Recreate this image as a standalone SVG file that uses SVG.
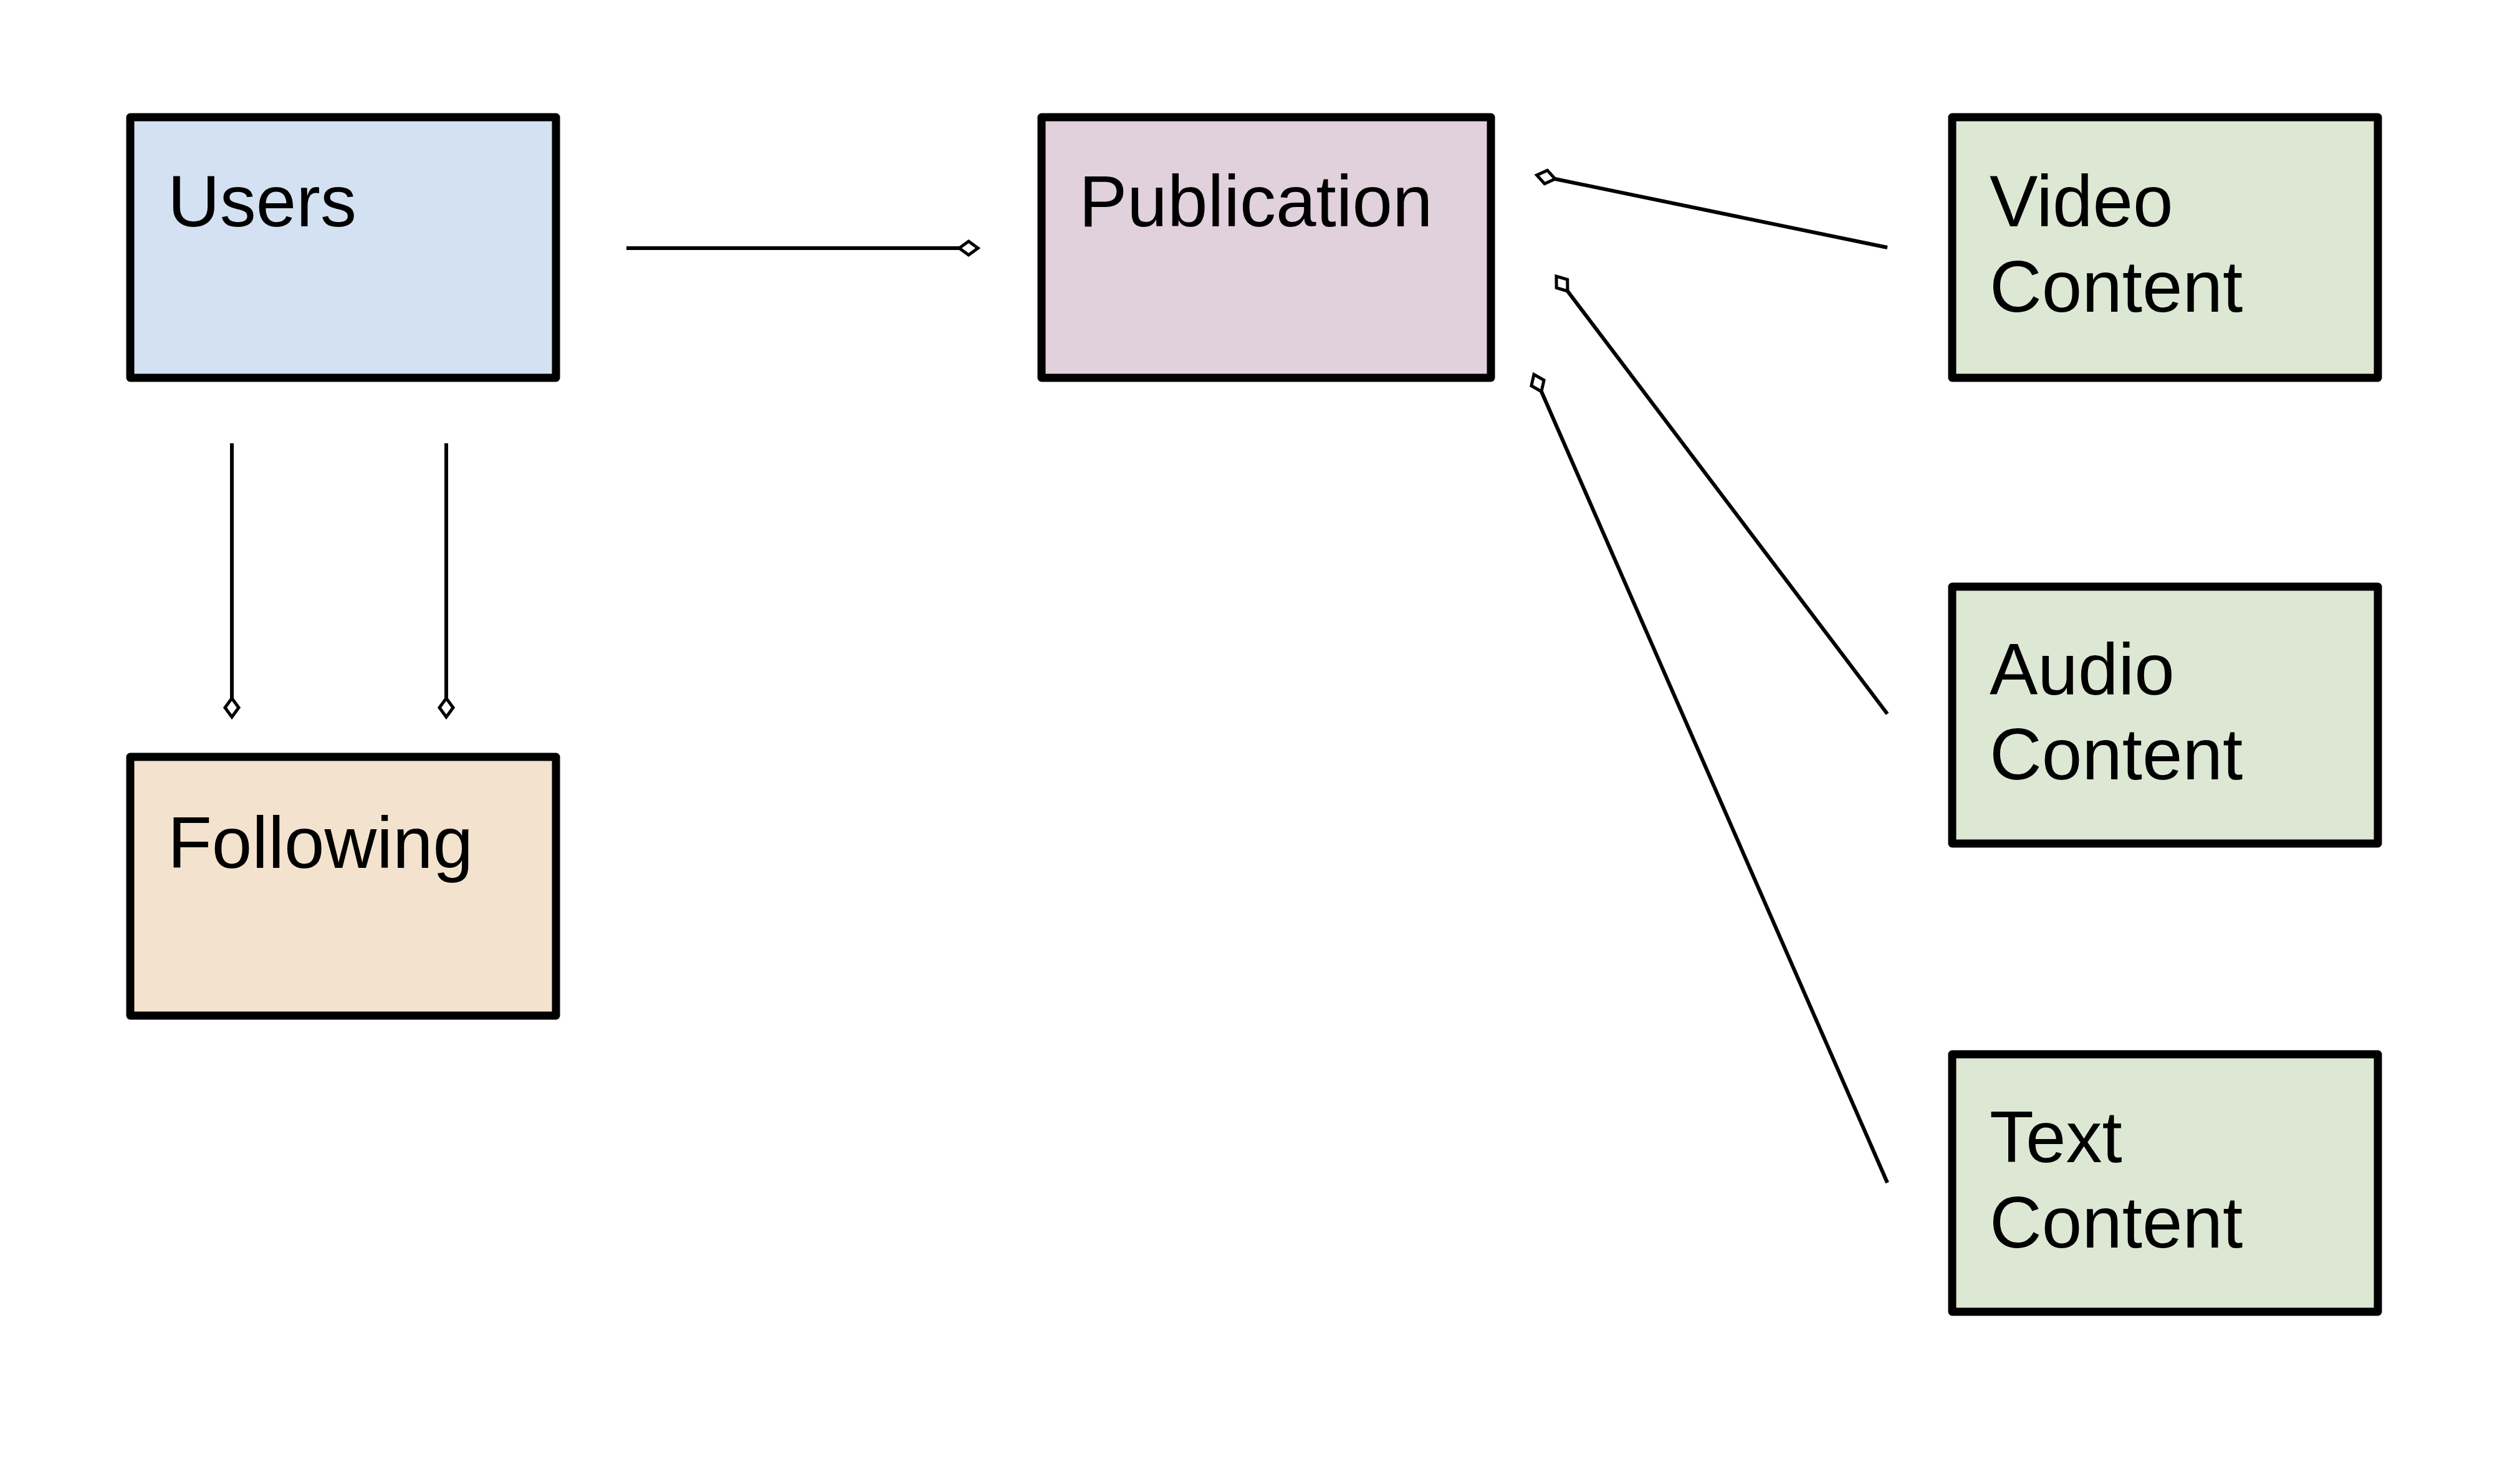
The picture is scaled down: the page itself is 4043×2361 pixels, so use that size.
<svg xmlns="http://www.w3.org/2000/svg" width="4043" height="2361" viewBox="0 0 4043 2361">
<style>
.box{stroke:#000;stroke-width:13;stroke-linejoin:round}
.lbl{font-family:"Liberation Sans",Arial,sans-serif;font-size:116px;fill:#000}
.conn{stroke:#000;stroke-width:6;fill:none}
</style>
<defs>
<marker id="dia" markerUnits="userSpaceOnUse" markerWidth="40" markerHeight="30" viewBox="-4 -15 40 30" refX="0" refY="0" orient="auto">
<path d="M0,0 L15,-11 L30,0 L15,11 Z" fill="#fff" stroke="#000" stroke-width="5" stroke-linejoin="miter"/>
</marker>
</defs>
<rect width="4043" height="2361" fill="#fff"/>
<g id="users">
<rect class="box" x="209" y="188" width="683" height="418" fill="#d4e1f2"/>
<text class="lbl" x="269" y="363">Users</text>
</g>
<g id="publication">
<rect class="box" x="1671" y="188" width="721" height="418" fill="#e1d1dc"/>
<text class="lbl" x="1731" y="363">Publication</text>
</g>
<g id="video">
<rect class="box" x="3132" y="188" width="683" height="418" fill="#dde8d4"/>
<text class="lbl" x="3192" y="363">Video</text>
<text class="lbl" x="3192" y="500">Content</text>
</g>
<g id="audio">
<rect class="box" x="3132" y="941" width="683" height="412" fill="#dde8d4"/>
<text class="lbl" x="3192" y="1114">Audio</text>
<text class="lbl" x="3192" y="1250">Content</text>
</g>
<g id="textcontent">
<rect class="box" x="3132" y="1691" width="683" height="413" fill="#dde8d4"/>
<text class="lbl" x="3192" y="1864">Text</text>
<text class="lbl" x="3192" y="2001">Content</text>
</g>
<g id="following">
<rect class="box" x="209" y="1214" width="683" height="415" fill="#f3e3ce"/>
<text class="lbl" x="269" y="1392">Following</text>
</g>
<g id="connectors">
<line class="conn" x1="1005" y1="398" x2="1539" y2="398" marker-end="url(#dia)"/>
<line class="conn" x1="372" y1="711" x2="372" y2="1120" marker-end="url(#dia)"/>
<line class="conn" x1="716" y1="711" x2="716" y2="1120" marker-end="url(#dia)"/>
<line class="conn" x1="3028" y1="397" x2="2495" y2="287" marker-end="url(#dia)"/>
<line class="conn" x1="3028" y1="1145" x2="2515" y2="467" marker-end="url(#dia)"/>
<line class="conn" x1="3028" y1="1897" x2="2473" y2="628" marker-end="url(#dia)"/>
</g>
</svg>
